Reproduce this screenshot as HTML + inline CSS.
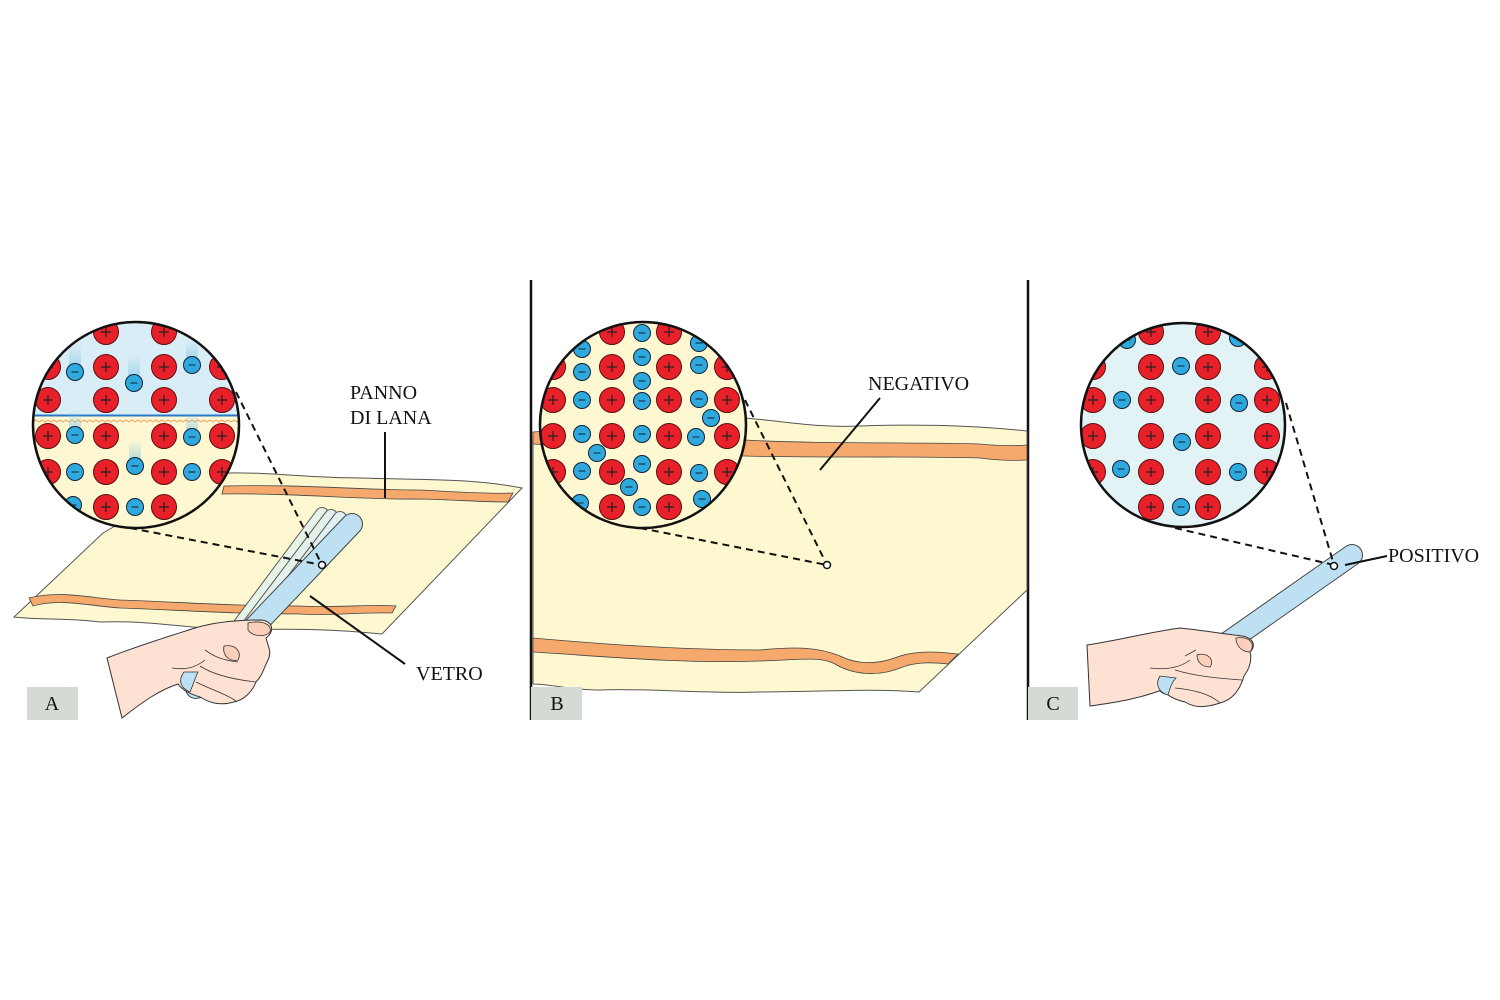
<!DOCTYPE html>
<html><head><meta charset="utf-8"><style>
html,body{margin:0;padding:0;background:#fff;}
svg{display:block;}
text{font-family:"Liberation Serif",serif;fill:#111;}
</style></head><body>
<svg width="1500" height="1000" viewBox="0 0 1500 1000" xmlns="http://www.w3.org/2000/svg">
<defs>
<clipPath id="cA"><circle cx="136" cy="425" r="103"/></clipPath>
<clipPath id="cB"><circle cx="643" cy="425" r="103"/></clipPath>
<clipPath id="cC"><circle cx="1183" cy="425" r="102"/></clipPath>
<linearGradient id="trail" x1="0" y1="0" x2="0" y2="1">
<stop offset="0" stop-color="#7cc3e6" stop-opacity="0"/><stop offset="1" stop-color="#7cc3e6" stop-opacity="0.7"/></linearGradient>
<g id="p"><circle r="12.5" fill="#e8202a" stroke="#5a1010" stroke-width="1"/><path d="M-5 0H5M0 -5V5" stroke="#222" stroke-width="1.2"/></g>
<g id="m"><circle r="8.5" fill="#2fa8dd" stroke="#123" stroke-width="1"/><path d="M-3.5 0H3.5" stroke="#123" stroke-width="1.1"/></g>
</defs>

<line x1="531" y1="280" x2="531" y2="720" stroke="#111" stroke-width="2.5"/>
<line x1="1028" y1="280" x2="1028" y2="720" stroke="#111" stroke-width="2.5"/>

<!-- ===== PANEL A ===== -->
<path d="M103 533 L205 474 C260 470 300 478 360 478 C420 480 470 478 522 488 L382 634 C340 630 300 628 240 630 C180 628 150 620 100 622 C70 618 40 620 14 617 Z" fill="#fdf8cf" stroke="#555" stroke-width="1"/>
<path d="M224 486 C300 484 360 490 420 490 C460 492 490 494 513 493 L508 502 C480 502 460 500 420 499 C360 500 300 493 222 494 Z" fill="#f5a96c" stroke="#444" stroke-width="0.8"/>
<path d="M29 598 C60 590 90 598 120 600 C180 602 230 606 300 606 C340 608 370 604 396 606 L392 613 C360 612 330 616 300 614 C230 614 180 610 120 608 C90 606 60 598 33 606 Z" fill="#f5a96c" stroke="#444" stroke-width="0.8"/>

<!-- rods A -->
<g stroke-linecap="round">
<line x1="322" y1="514" x2="228" y2="640" stroke="#555" stroke-width="14"/><line x1="322" y1="514" x2="228" y2="640" stroke="#e8f3e8" stroke-width="12"/>
<line x1="331" y1="516" x2="236" y2="642" stroke="#555" stroke-width="14"/><line x1="331" y1="516" x2="236" y2="642" stroke="#e4f1ea" stroke-width="12"/>
<line x1="340" y1="518" x2="244" y2="645" stroke="#555" stroke-width="14"/><line x1="340" y1="518" x2="244" y2="645" stroke="#e0eff0" stroke-width="12"/>
<line x1="352" y1="524" x2="196" y2="688" stroke="#444" stroke-width="22"/><line x1="352" y1="524" x2="196" y2="688" stroke="#bde0f3" stroke-width="20"/>
</g>

<!-- hand A -->
<path d="M107 658 C140 645 170 636 195 628 C215 622 240 620 262 620 C274 622 274 632 266 638 C268 646 272 652 268 660 C264 668 262 676 256 682 C252 692 244 700 234 702 C220 706 210 703 200 697 C190 694 182 690 178 684 C160 690 145 700 122 718 Z" fill="#fde1d2" stroke="#333" stroke-width="1"/>
<path d="M248 623 C262 620 272 624 270 632 C264 638 252 636 248 630 Z" fill="#fbcfb9" stroke="#333" stroke-width="0.8"/>
<path d="M224 646 C236 644 242 652 238 660 C230 662 222 656 224 646 Z" fill="#fbcfb9" stroke="#333" stroke-width="0.8"/>
<path d="M184 672 C178 680 180 688 190 692 C193 685 195 678 198 672 Z" fill="#bde0f3" stroke="#333" stroke-width="0.8"/>
<path d="M205 650 C212 655 220 660 238 662 M200 666 C215 676 238 680 256 682 M196 682 C212 690 226 694 236 701 M172 668 C185 670 195 668 205 660" fill="none" stroke="#333" stroke-width="0.8"/>

<!-- circle A -->
<g clip-path="url(#cA)">
<rect x="30" y="320" width="215" height="96" fill="#d9edf6"/>
<rect x="30" y="416" width="215" height="115" fill="#fdf8d2"/>
<line x1="30" y1="415.5" x2="245" y2="415.5" stroke="#2a78c8" stroke-width="2"/>
<path d="M30 420 l3 2 l3 -2 l3 2 l3 -2 l3 2 l3 -2 l3 2 l3 -2 l3 2 l3 -2 l3 2 l3 -2 l3 2 l3 -2 l3 2 l3 -2 l3 2 l3 -2 l3 2 l3 -2 l3 2 l3 -2 l3 2 l3 -2 l3 2 l3 -2 l3 2 l3 -2 l3 2 l3 -2 l3 2 l3 -2 l3 2 l3 -2 l3 2 l3 -2 l3 2 l3 -2 l3 2 l3 -2 l3 2 l3 -2 l3 2 l3 -2 l3 2 l3 -2 l3 2 l3 -2 l3 2 l3 -2 l3 2 l3 -2 l3 2 l3 -2 l3 2 l3 -2 l3 2 l3 -2 l3 2 l3 -2 l3 2 l3 -2 l3 2 l3 -2 l3 2 l3 -2 l3 2 l3 -2 l3 2 l3 -2 l3 2 l3 -2 l3 2 l3 -2 l3 2 l3 -2 l3 2" fill="none" stroke="#f0a060" stroke-width="1"/>
<rect x="69" y="345" width="12" height="27" fill="url(#trail)"/>
<rect x="128" y="355" width="12" height="28" fill="url(#trail)"/>
<rect x="186" y="340" width="12" height="25" fill="url(#trail)"/>
<rect x="69" y="410" width="12" height="25" fill="url(#trail)"/>
<rect x="186" y="412" width="12" height="25" fill="url(#trail)"/>
<rect x="129" y="440" width="12" height="26" fill="url(#trail)"/>
<use href="#p" x="106" y="332"/><use href="#p" x="164" y="332"/>
<use href="#p" x="48" y="367"/><use href="#p" x="106" y="367"/><use href="#p" x="164" y="367"/><use href="#p" x="222" y="367"/>
<use href="#p" x="48" y="400"/><use href="#p" x="106" y="400"/><use href="#p" x="164" y="400"/><use href="#p" x="222" y="400"/>
<use href="#p" x="48" y="436"/><use href="#p" x="106" y="436"/><use href="#p" x="164" y="436"/><use href="#p" x="222" y="436"/>
<use href="#p" x="48" y="472"/><use href="#p" x="106" y="472"/><use href="#p" x="164" y="472"/><use href="#p" x="222" y="472"/>
<use href="#p" x="106" y="507"/><use href="#p" x="164" y="507"/>
<use href="#m" x="75" y="372"/><use href="#m" x="134" y="383"/><use href="#m" x="192" y="365"/>
<use href="#m" x="75" y="435"/><use href="#m" x="192" y="437"/><use href="#m" x="135" y="466"/>
<use href="#m" x="75" y="472"/><use href="#m" x="192" y="472"/><use href="#m" x="73" y="505"/><use href="#m" x="135" y="507"/>
</g>
<circle cx="136" cy="425" r="103" fill="none" stroke="#111" stroke-width="2.5"/>
<path d="M130 528 L322 565 M236 392 L322 565" stroke="#111" stroke-width="2" stroke-dasharray="7 5" fill="none"/>
<circle cx="322" cy="565" r="3.5" fill="#fff" stroke="#111" stroke-width="1.5"/>

<text x="350" y="399" font-size="20">PANNO</text>
<text x="350" y="424" font-size="20">DI LANA</text>
<line x1="385" y1="432" x2="385" y2="498" stroke="#111" stroke-width="2"/>
<text x="416" y="680" font-size="20">VETRO</text>
<line x1="310" y1="596" x2="405" y2="664" stroke="#111" stroke-width="2"/>
<rect x="27" y="687" width="51" height="33" fill="#d4dad4"/>
<text x="52" y="710" font-size="20" text-anchor="middle">A</text>

<!-- ===== PANEL B ===== -->
<path d="M533 440 C600 430 680 420 745 418 C790 422 820 428 860 426 C920 424 980 426 1027 431 L1027 590 L919 692 C870 688 820 692 760 692 C700 694 650 688 600 690 C570 690 550 684 533 684 Z" fill="#fdf8cf" stroke="#555" stroke-width="1"/>
<path d="M533 432 L560 430 C620 436 680 440 745 440 C820 444 900 442 980 444 C1000 446 1015 446 1027 445 L1027 460 C1010 461 995 460 980 458 C900 456 820 458 745 456 C680 456 620 450 533 444 Z" fill="#f5a96c" stroke="#444" stroke-width="0.8"/>
<path d="M533 638 C600 644 680 650 760 650 C800 646 820 648 840 656 C860 666 880 664 900 656 C920 650 940 652 958 654 L948 664 C930 662 915 662 900 668 C880 676 855 676 835 664 C820 656 800 660 760 661 C680 664 600 656 533 652 Z" fill="#f5a96c" stroke="#444" stroke-width="0.8"/>
<g clip-path="url(#cB)">
<rect x="535" y="320" width="215" height="215" fill="#fdf8d2"/>
<use href="#p" x="612" y="332"/><use href="#p" x="669" y="332"/>
<use href="#p" x="553" y="367"/><use href="#p" x="612" y="367"/><use href="#p" x="669" y="367"/><use href="#p" x="727" y="367"/>
<use href="#p" x="553" y="400"/><use href="#p" x="612" y="400"/><use href="#p" x="669" y="400"/><use href="#p" x="727" y="400"/>
<use href="#p" x="553" y="436"/><use href="#p" x="612" y="436"/><use href="#p" x="669" y="436"/><use href="#p" x="727" y="436"/>
<use href="#p" x="553" y="472"/><use href="#p" x="612" y="472"/><use href="#p" x="669" y="472"/><use href="#p" x="727" y="472"/>
<use href="#p" x="612" y="507"/><use href="#p" x="669" y="507"/>
<use href="#m" x="582" y="349"/><use href="#m" x="582" y="372"/><use href="#m" x="642" y="333"/><use href="#m" x="642" y="357"/><use href="#m" x="642" y="381"/>
<use href="#m" x="699" y="343"/><use href="#m" x="699" y="365"/><use href="#m" x="582" y="400"/><use href="#m" x="642" y="401"/><use href="#m" x="699" y="399"/>
<use href="#m" x="711" y="418"/><use href="#m" x="582" y="434"/><use href="#m" x="642" y="434"/><use href="#m" x="696" y="437"/><use href="#m" x="597" y="453"/>
<use href="#m" x="582" y="471"/><use href="#m" x="642" y="464"/><use href="#m" x="699" y="473"/><use href="#m" x="629" y="487"/><use href="#m" x="580" y="503"/>
<use href="#m" x="642" y="507"/><use href="#m" x="702" y="499"/>
</g>
<circle cx="643" cy="425" r="103" fill="none" stroke="#111" stroke-width="2.5"/>
<path d="M640 528 L827 565 M745 400 L827 565" stroke="#111" stroke-width="2" stroke-dasharray="7 5" fill="none"/>
<circle cx="827" cy="565" r="3.5" fill="#fff" stroke="#111" stroke-width="1.5"/>
<text x="868" y="390" font-size="20">NEGATIVO</text>
<line x1="880" y1="398" x2="820" y2="470" stroke="#111" stroke-width="2"/>
<rect x="531" y="687" width="51" height="33" fill="#d4dad4"/>
<text x="557" y="710" font-size="20" text-anchor="middle">B</text>

<!-- ===== PANEL C ===== -->
<g stroke-linecap="round">
<line x1="1352" y1="555" x2="1168" y2="684" stroke="#444" stroke-width="22"/>
<line x1="1352" y1="555" x2="1168" y2="684" stroke="#bde0f3" stroke-width="20"/>
</g>
<path d="M1087 645 C1120 640 1150 632 1180 628 C1200 630 1225 634 1242 636 C1254 638 1256 646 1250 652 C1252 660 1250 668 1244 676 C1240 690 1232 700 1220 703 C1205 708 1195 708 1185 702 C1176 700 1168 696 1162 690 C1140 698 1120 702 1090 706 Z" fill="#fde1d2" stroke="#333" stroke-width="1"/>
<path d="M1236 638 C1250 636 1256 644 1250 652 C1242 652 1236 646 1236 638 Z" fill="#fbcfb9" stroke="#333" stroke-width="0.8"/>
<path d="M1197 655 C1208 652 1215 660 1210 667 C1202 667 1197 662 1197 655 Z" fill="#fbcfb9" stroke="#333" stroke-width="0.8"/>
<path d="M1160 676 C1155 684 1158 692 1168 695 C1170 688 1172 682 1176 678 Z" fill="#bde0f3" stroke="#333" stroke-width="0.8"/>
<path d="M1185 656 L1196 650 M1175 670 C1195 676 1215 678 1242 680 M1175 688 C1195 690 1210 694 1220 703 M1150 668 C1165 670 1180 668 1190 660" fill="none" stroke="#333" stroke-width="0.8"/>
<g clip-path="url(#cC)">
<rect x="1075" y="320" width="215" height="215" fill="#e2f3f6"/>
<use href="#p" x="1151" y="332"/><use href="#p" x="1208" y="332"/>
<use href="#p" x="1093" y="367"/><use href="#p" x="1151" y="367"/><use href="#p" x="1208" y="367"/><use href="#p" x="1267" y="367"/>
<use href="#p" x="1093" y="400"/><use href="#p" x="1151" y="400"/><use href="#p" x="1208" y="400"/><use href="#p" x="1267" y="400"/>
<use href="#p" x="1093" y="436"/><use href="#p" x="1151" y="436"/><use href="#p" x="1208" y="436"/><use href="#p" x="1267" y="436"/>
<use href="#p" x="1093" y="472"/><use href="#p" x="1151" y="472"/><use href="#p" x="1208" y="472"/><use href="#p" x="1267" y="472"/>
<use href="#p" x="1151" y="507"/><use href="#p" x="1208" y="507"/>
<use href="#m" x="1127" y="340"/><use href="#m" x="1181" y="366"/><use href="#m" x="1238" y="338"/><use href="#m" x="1122" y="400"/>
<use href="#m" x="1239" y="403"/><use href="#m" x="1182" y="442"/><use href="#m" x="1121" y="469"/><use href="#m" x="1238" y="472"/><use href="#m" x="1181" y="507"/>
</g>
<circle cx="1183" cy="425" r="102" fill="none" stroke="#111" stroke-width="2.5"/>
<path d="M1175 528 L1334 565 M1286 403 L1334 565" stroke="#111" stroke-width="2" stroke-dasharray="7 5" fill="none"/>
<circle cx="1334" cy="566" r="3.5" fill="#fff" stroke="#111" stroke-width="1.5"/>
<text x="1388" y="562" font-size="20">POSITIVO</text>
<line x1="1345" y1="565" x2="1387" y2="556" stroke="#111" stroke-width="2"/>
<rect x="1028" y="687" width="50" height="33" fill="#d4dad4"/>
<text x="1053" y="710" font-size="20" text-anchor="middle">C</text>
</svg>
</body></html>
